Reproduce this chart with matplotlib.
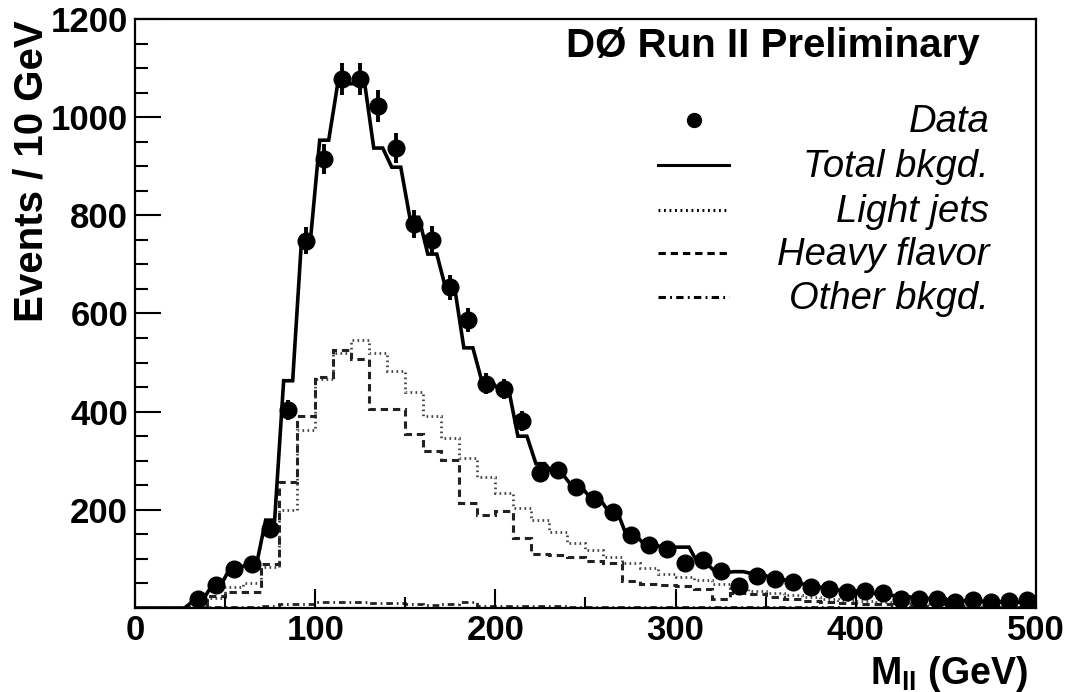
import numpy as np
import matplotlib
matplotlib.use("Agg")
import matplotlib.pyplot as plt
from matplotlib import font_manager

# bin edges (GeV), 10 GeV bins
edges = np.arange(0, 510, 10)
centers = edges[:-1] + 5

# values, one per 10 GeV bin
data = [0, 0, 0, 18, 46, 80, 89, 160, 403, 748,
        915, 1077, 1077, 1023, 938, 782, 750, 653, 586, 457,
        446, 381, 275, 281, 246, 223, 196, 149, 128, 121,
        91, 98, 76, 45, 65, 60, 52, 42, 38, 33,
        35, 30, 18, 19, 19, 13, 16, 13, 15, 16]
total_bkgd = [0, 0, 0, 15, 45, 80, 90, 179, 463, 755,
              953, 1068, 1068, 937, 898, 796, 721, 650, 530, 462,
              443, 350, 294, 272, 248, 225, 198, 150, 130, 124,
              124, 90, 72, 74, 70, 62, 54, 46, 40, 35,
              32, 28, 24, 21, 18, 16, 14, 13, 12, 11]
light_jets = [0, 0, 0, 3, 20, 42, 50, 84, 199, 362,
              466, 520, 545, 520, 483, 440, 391, 347, 306, 267,
              235, 203, 179, 155, 133, 119, 104, 92, 81, 69,
              64, 58, 48, 40, 35, 30, 26, 22, 19, 16,
              14, 12, 10, 9, 8, 7, 6, 5, 5, 4]
heavy_flavor = [0, 0, 0, 6, 25, 33, 33, 89, 257, 392,
                470, 526, 508, 405, 405, 355, 320, 301, 213, 189,
                198, 142, 111, 108, 103, 95, 91, 54, 48, 47,
                45, 38, 18, 30, 28, 22, 18, 14, 12, 10,
                9, 8, 6, 5, 5, 4, 4, 3, 3, 3]
other_bkgd = [0, 0, 0, 1, 2, 3, 3, 4, 8, 8,
              12, 12, 12, 10, 10, 8, 6, 8, 12, 4,
              5, 4, 5, 4, 3, 3, 3, 3, 3, 3,
              3, 3, 2, 2, 2, 2, 2, 2, 2, 1,
              1, 1, 1, 1, 1, 1, 1, 1, 1, 1]

legend_labels = ["Data", "Total bkgd.", "Light jets", "Heavy flavor", "Other bkgd."]

# fonts: condensed look for tick labels if available
names = {f.name for f in font_manager.fontManager.ttflist}
base_font = "Liberation Sans"
if "Liberation Sans Narrow" in names:
    tick_font, tick_size = "Liberation Sans Narrow", 30
else:
    tick_font, tick_size = "Liberation Sans", 25
plt.rcParams["font.family"] = [base_font, "DejaVu Sans"]
plt.rcParams["mathtext.fontset"] = "custom"
plt.rcParams["mathtext.bf"] = base_font + ":bold"
plt.rcParams["mathtext.rm"] = base_font + ":bold"

fig = plt.figure(figsize=(10.68, 6.92), dpi=100)
ax = fig.add_axes([0.1264, 0.1214, 0.8436, 0.8512])

data = np.array(data, dtype=float)
total_bkgd = np.array(total_bkgd, dtype=float)

# background components as step histograms
ax.stairs(light_jets, edges, color="#444444", lw=2.0, linestyle=(0, (0.6, 1.2)))
ax.stairs(heavy_flavor, edges, color="#222222", lw=2.2, linestyle=(0, (2.4, 1.6)))
ax.stairs(other_bkgd, edges, color="#222222", lw=2.0, linestyle=(0, (2.4, 1.4, 0.6, 1.4)))

# total background: step outline with slightly slanted risers
tx, ty = [edges[0]], [total_bkgd[0]]
for lo, hi, v in zip(edges[:-1], edges[1:], total_bkgd):
    tx += [lo + 2.5, hi - 2.5]
    ty += [v, v]
tx.append(edges[-1])
ty.append(total_bkgd[-1])
ax.plot(tx, ty, color="black", lw=2.6, solid_joinstyle="miter")

# data points with sqrt(N) errors
m = data > 0
ax.errorbar(centers[m], data[m], yerr=np.sqrt(data[m]), fmt="o", color="black",
            ms=12, elinewidth=2.8, capsize=0, zorder=5)

ax.set_xlim(0, 500)
ax.set_ylim(0, 1200)
ax.set_xticks(np.arange(0, 501, 100))
ax.set_xticks(np.arange(50, 500, 100), minor=True)
ax.set_yticks(np.arange(200, 1201, 200))
ax.set_yticks(np.arange(0, 1201, 50), minor=True)
ax.tick_params(axis="y", which="major", direction="in", length=19, width=1.5, pad=5)
ax.tick_params(axis="y", which="minor", direction="in", length=9.5, width=1.5)
ax.tick_params(axis="x", which="major", direction="in", length=13.5, width=1.5, pad=4)
ax.tick_params(axis="x", which="minor", direction="in", length=8, width=1.5)
for lab in ax.get_xticklabels() + ax.get_yticklabels():
    lab.set_fontfamily(tick_font)
    lab.set_fontsize(tick_size)
    lab.set_fontweight("bold")
for s in ax.spines.values():
    s.set_linewidth(1.6)

# axis titles, ROOT style
fig.text(32 / 1068, 1 - 20 / 692, "Events / 10 GeV", rotation=90, ha="center",
         va="top", fontsize=29, fontweight="bold")
fig.text(1028 / 1068, 1 - 684 / 692, r"$\mathbf{M_{ll}}$ (GeV)", ha="right",
         va="baseline", fontsize=27, fontweight="bold")

# title
ax.text(0.938, 0.9355, "DØ Run II Preliminary", transform=ax.transAxes,
        ha="right", va="baseline", fontsize=29, fontweight="bold")

# hand-made legend: symbol left, italic text right-aligned
rows = [0.8285, 0.752, 0.676, 0.603, 0.528]
styles = [None, "-", (0, (0.6, 1.2)), (0, (2.4, 1.6)), (0, (2.4, 1.4, 0.6, 1.4))]
for lab, yr, st in zip(legend_labels, rows, styles):
    if st is None:
        ax.plot([0.6204], [yr], "o", color="black", ms=10, transform=ax.transAxes)
    else:
        ax.plot([0.5805, 0.659], [yr, yr], color="black", lw=2.2, linestyle=st,
                transform=ax.transAxes)
    ax.text(0.948, yr - 0.021, lab, transform=ax.transAxes, ha="right",
            va="baseline", fontsize=27.5, fontstyle="italic")

fig.savefig("out.png", dpi=100)
